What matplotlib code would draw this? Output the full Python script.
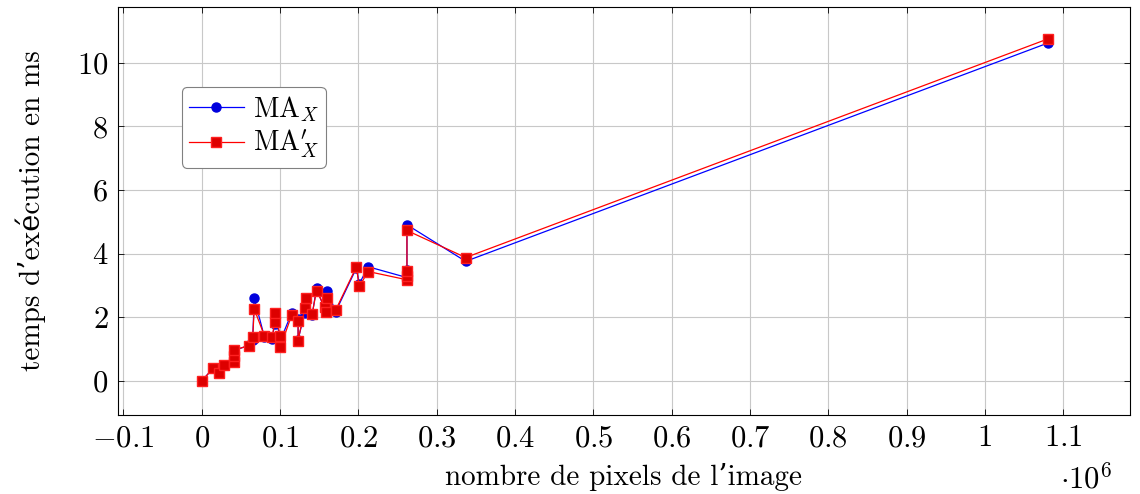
import numpy as np
import matplotlib
matplotlib.use("Agg")
import matplotlib.pyplot as plt
from matplotlib.ticker import FuncFormatter, MultipleLocator

plt.rcParams['font.family'] = ['cmr10', 'DejaVu Serif']
plt.rcParams['mathtext.fontset'] = 'cm'
plt.rcParams['axes.unicode_minus'] = False

# nombre de pixels (x 10^6)
pixels = [0.0, 0.0145, 0.022, 0.029, 0.041, 0.041, 0.041, 0.060, 0.065, 0.067,
          0.080, 0.090, 0.093, 0.093, 0.1005, 0.1005, 0.115, 0.123, 0.123, 0.1315,
          0.1337, 0.141, 0.1465, 0.157, 0.158, 0.1605, 0.171, 0.1975, 0.201, 0.2125,
          0.262, 0.262, 0.262, 0.262, 0.337, 1.080]
ma_x = [0.0, 0.40, 0.28, 0.50, 0.60, 0.78, 0.95, 1.12, 1.30, 2.60,
        1.38, 1.32, 1.80, 2.05, 1.35, 1.28, 2.15, 1.95, 1.30, 2.15,
        2.50, 2.08, 2.92, 2.25, 2.20, 2.82, 2.18, 3.55, 3.05, 3.59,
        3.25, 3.35, 3.50, 4.91, 3.76, 10.62]
ma_x_prime = [0.0, 0.40, 0.26, 0.50, 0.61, 0.79, 0.97, 1.11, 1.37, 2.26,
              1.42, 1.39, 1.86, 2.13, 1.42, 1.08, 2.08, 1.90, 1.27, 2.28,
              2.60, 2.11, 2.84, 2.31, 2.18, 2.60, 2.23, 3.59, 2.97, 3.44,
              3.18, 3.29, 3.45, 4.73, 3.88, 10.75]

fig = plt.figure(figsize=(11.4, 4.94), dpi=100)
ax = fig.add_axes([0.1035, 0.16, 0.8875, 0.826])

ax.plot(pixels, ma_x, color='#0000ff', lw=0.9, marker='o', ms=6.5,
        mfc='#0000dd', mec='#0000dd', label=r'$\mathrm{MA}_X$', zorder=3)
ax.plot(pixels, ma_x_prime, color='#ff0000', lw=0.9, marker='s', ms=6.5,
        mfc='#dd0000', mec='#ff2020', label=r"$\mathrm{MA}^{\prime}_{X}$", zorder=4)

ax.set_xlim(-0.107, 1.185)
ax.set_ylim(-1.07, 11.76)
ax.xaxis.set_major_locator(MultipleLocator(0.1))
ax.yaxis.set_major_locator(MultipleLocator(2))

def fmt_x(v, pos):
    v = round(v, 1)
    if v == 0:
        return r'$0$'
    if v == round(v):
        return r'$%d$' % v
    return r'$%.1f$' % v

ax.xaxis.set_major_formatter(FuncFormatter(fmt_x))
ax.yaxis.set_major_formatter(FuncFormatter(lambda v, p: r'$%d$' % round(v)))

ax.grid(True, color='#c8c8c8', lw=0.8)
ax.set_axisbelow(True)
ax.tick_params(direction='in', top=True, right=True, labelsize=22, length=4,
               width=0.6, pad=7)
for s in ax.spines.values():
    s.set_linewidth(0.8)

ax.set_xlabel('nombre de pixels de l’image', fontsize=21, labelpad=8)
ax.set_ylabel('temps d’exécution en ms', fontsize=21, labelpad=22)
fig.text(0.953, 0.03, r'$\cdot 10^6$', fontsize=22, ha='center', va='center')

leg = ax.legend(loc='upper left', bbox_to_anchor=(0.063, 0.804), borderaxespad=0,
                fontsize=20, fancybox=True, framealpha=1, edgecolor='#808080',
                handlelength=2.0, handletextpad=0.3, borderpad=0.25, labelspacing=0.15)
leg.get_frame().set_linewidth(0.8)

fig.savefig('out.png', dpi=100)
